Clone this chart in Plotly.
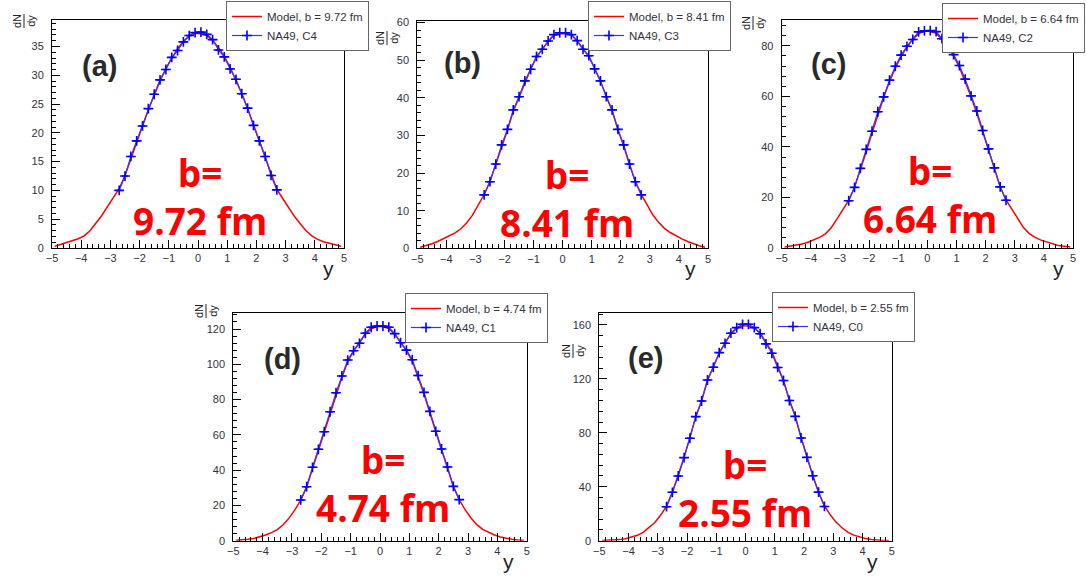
import plotly.graph_objects as go

W, H = 1086, 576

# ---------------- data ----------------
model_x = [-4.9, -4.7, -4.5, -4.3, -4.1, -3.9, -3.7, -3.5, -3.3, -3.1,
           -2.9, -2.7, -2.5, -2.3, -2.1, -1.9, -1.7, -1.5, -1.3, -1.1,
           -0.9, -0.7, -0.5, -0.3, -0.1, 0.1, 0.3, 0.5, 0.7, 0.9,
           1.1, 1.3, 1.5, 1.7, 1.9, 2.1, 2.3, 2.5, 2.7, 2.9,
           3.1, 3.3, 3.5, 3.7, 3.9, 4.1, 4.3, 4.5, 4.7, 4.9]
data_x = [-2.7, -2.5, -2.3, -2.1, -1.9, -1.7, -1.5, -1.3, -1.1, -0.9,
          -0.7, -0.5, -0.3, -0.1, 0.1, 0.3, 0.5, 0.7, 0.9, 1.1,
          1.3, 1.5, 1.7, 1.9, 2.1, 2.3, 2.5, 2.7]

model_a = [0.3, 0.6, 0.9, 1.2, 1.6, 2.1, 3.0, 4.3, 5.6, 7.2, 8.8, 10.3, 12.6, 15.6, 18.4,
           21.2, 24.0, 26.6, 29.0, 31.2, 33.0, 34.6, 35.9, 36.8, 37.3,
           37.2, 36.9, 36.1, 34.8, 33.3, 31.4, 29.2, 26.8, 24.2, 21.4, 18.6, 15.6, 12.8,
           10.2, 8.6, 7.0, 5.5, 4.2, 3.0, 2.1, 1.5, 1.1, 0.8, 0.5, 0.3]
model_b = [0.3, 0.7, 1.2, 1.8, 2.5, 3.2, 4.1, 5.2, 6.8, 8.8, 11.5, 14.3, 17.8, 22.2, 27.0,
           31.4, 36.4, 40.2, 44.2, 47.6, 50.8, 53.0, 55.0, 56.6, 57.0,
           57.1, 56.7, 55.1, 53.2, 51.0, 47.8, 44.4, 40.4, 36.6, 31.6, 27.2, 22.2, 17.8,
           14.4, 11.6, 8.9, 6.9, 5.3, 4.2, 3.3, 2.5, 1.8, 1.2, 0.7, 0.3]
model_c = [0.4, 0.7, 1.0, 1.6, 2.3, 3.1, 4.2, 5.6, 8.0, 11.5, 15.0, 18.8, 24.0, 30.8, 38.0,
           45.5, 53.0, 59.5, 65.8, 71.2, 75.8, 79.5, 82.5, 84.8, 85.8,
           85.7, 84.9, 82.6, 79.8, 76.0, 71.5, 66.0, 59.8, 53.2, 45.8, 38.3, 31.0, 24.2,
           19.0, 15.2, 11.6, 8.1, 5.7, 4.2, 3.1, 2.3, 1.6, 1.0, 0.7, 0.4]
model_d = [0.2, 0.4, 0.8, 1.3, 2.1, 3.2, 4.6, 6.3, 9.0, 12.8, 17.5, 23.0, 30.5, 41.0, 51.0,
           61.0, 72.0, 83.0, 92.5, 101.5, 107.5, 112.5, 117.0, 120.0, 121.5,
           121.3, 120.2, 117.2, 112.8, 107.8, 101.8, 92.8, 83.2, 72.4, 61.4, 51.2, 41.2, 30.8,
           23.2, 17.6, 12.9, 9.1, 6.4, 4.7, 3.2, 2.1, 1.3, 0.8, 0.4, 0.2]
model_e = [0.1, 0.2, 0.4, 0.8, 1.5, 2.5, 4.0, 6.2, 9.5, 13.5, 19.0, 25.5, 35.5, 48.0, 62.0,
           76.5, 92.0, 104.0, 119.0, 129.0, 139.0, 146.5, 153.5, 157.5, 159.5,
           159.3, 157.8, 154.0, 147.2, 140.2, 129.5, 118.5, 104.5, 92.5, 76.8, 62.3, 48.3, 35.8,
           25.8, 19.2, 13.6, 9.6, 6.3, 4.1, 2.6, 1.6, 0.9, 0.4, 0.2, 0.1]

na49_a = [10.0, 12.5, 15.9, 18.6, 21.2, 24.2, 26.7, 29.2, 31.0, 33.1, 34.3, 35.8, 36.9, 37.4,
          37.5, 37.1, 36.2, 34.4, 33.2, 31.1, 29.3, 26.8, 24.3, 21.3, 18.6, 15.9, 12.6, 10.1]
na49_b = [14.2, 17.7, 22.4, 27.5, 31.6, 36.8, 40.3, 44.5, 47.6, 51.0, 52.9, 55.1, 56.8, 57.3,
          57.3, 56.8, 55.2, 52.9, 51.2, 47.7, 44.5, 40.3, 36.8, 31.6, 27.5, 22.4, 17.7, 14.2]
na49_c = [18.7, 24.0, 31.5, 39.0, 46.2, 53.9, 59.8, 66.4, 71.9, 76.3, 79.8, 82.5, 85.5, 85.9,
          86.0, 85.6, 82.8, 80.2, 76.5, 72.2, 66.8, 60.2, 54.2, 46.5, 39.2, 31.7, 24.2, 18.9]
na49_d = [23.1, 30.6, 41.6, 51.8, 61.8, 73.1, 83.9, 93.4, 102.4, 107.7, 111.9, 117.6, 121.0, 121.7,
          121.7, 121.0, 117.4, 112.2, 108.0, 102.6, 93.6, 84.1, 73.3, 62.0, 52.0, 41.8, 30.8, 23.3]
na49_e = [25.2, 35.9, 48.0, 61.6, 76.0, 92.0, 103.6, 119.2, 128.6, 139.5, 146.4, 153.9, 158.0, 160.5,
          160.5, 158.0, 153.5, 146.0, 139.0, 128.5, 118.8, 104.0, 92.2, 76.2, 61.8, 48.2, 36.0, 25.4]

panel_letters = ["(a)", "(b)", "(c)", "(d)", "(e)"]
b_values = ["9.72", "8.41", "6.64", "4.74", "2.55"]
centrality = ["C4", "C3", "C2", "C1", "C0"]
y_ticks_major = [5, 10, 20, 20, 40]
y_ticks_minor = [1, 2, 4, 4, 8]
y_tops = [39.6, 60.5, 90.2, 128.9, 169.1]
models = [model_a, model_b, model_c, model_d, model_e]
na49 = [na49_a, na49_b, na49_c, na49_d, na49_e]

# ---------------- layout geometry (pixels) ----------------
frames = [  # left, right, top, bottom
    (52, 344, 20, 248),
    (417.3, 708, 20.7, 248.3),
    (781.7, 1073, 20, 248),
    (233.3, 526.7, 313.3, 540.7),
    (599.3, 891.7, 312.7, 540.7),
]
legend_pos = [(226, 1), (588, 1), (942, 3), (405, 293), (772, 292)]
letter_pos = [(99, 66), (462, 63), (828, 64), (282, 359), (645, 358)]
bnote_pos = [(200, 196), (567, 198), (930, 194), (383, 483), (745, 488)]
dndy_pos = [(24, 21), (387, 38), (753, 23), (206, 311), (573, 351)]
ytitle_pos = [(328, 268), (690, 268), (1058, 268), (508, 561), (872, 561)]


def px(x):
    return x / W


def py(y):
    return 1 - y / H


fig = go.Figure()
layout = dict(width=W, height=H, margin=dict(l=0, r=0, t=0, b=0, autoexpand=False),
              paper_bgcolor="white", plot_bgcolor="white", showlegend=True)
annotations = []
shapes = []
tickfont = dict(family="Liberation Sans, Arial, sans-serif", size=11, color="#333340")

for i in range(5):
    k = "" if i == 0 else str(i + 1)
    L, R, T, B = frames[i]
    fig.add_trace(go.Scatter(
        x=model_x, y=models[i], mode="lines",
        line=dict(color="#ff0000", width=1.5, shape="linear"),
        name=f"Model, b = {b_values[i]} fm",
        xaxis="x" + k, yaxis="y" + k, legend="legend" + k))
    fig.add_trace(go.Scatter(
        x=data_x, y=na49[i], mode="lines+markers",
        line=dict(color="#3535ff", width=1.2),
        marker=dict(symbol="cross-thin", size=7, color="#0000ff",
                    line=dict(width=1.6, color="#0000ff")),
        error_x=dict(type="constant", value=0.1, width=0, thickness=1.4, color="#0000ff"),
        name=f"NA49, {centrality[i]}",
        xaxis="x" + k, yaxis="y" + k, legend="legend" + k))

    layout["xaxis" + k] = dict(
        domain=[px(L), px(R)], anchor="y" + k, range=[-5, 5], automargin=False,
        showline=True, linecolor="black", linewidth=1, mirror=True,
        showgrid=False, zeroline=False,
        ticks="inside", ticklen=8, tickcolor="black", dtick=1, tick0=0,
        minor=dict(ticks="inside", ticklen=4, dtick=0.2, tickcolor="black", showgrid=False),
        tickfont=tickfont)
    layout["yaxis" + k] = dict(
        domain=[py(B), py(T)], anchor="x" + k, range=[0, y_tops[i]], automargin=False,
        showline=True, linecolor="black", linewidth=1, mirror=True,
        showgrid=False, zeroline=False,
        ticks="inside", ticklen=8, tickcolor="black", dtick=y_ticks_major[i], tick0=0,
        minor=dict(ticks="inside", ticklen=4, dtick=y_ticks_minor[i], tickcolor="black", showgrid=False),
        tickfont=tickfont, ticklabelstandoff=5)
    lx, ly = legend_pos[i]
    layout["legend" + k] = dict(
        x=px(lx), y=py(ly), xanchor="left", yanchor="top",
        bgcolor="white", bordercolor="#666666", borderwidth=1,
        font=dict(family="Liberation Sans, Arial, sans-serif", size=11.5, color="#333340"),
        tracegroupgap=0, itemwidth=30)

    ax, ay = letter_pos[i]
    annotations.append(dict(x=px(ax), y=py(ay), xref="paper", yref="paper", showarrow=False,
                            text=f"<b>{panel_letters[i]}</b>", xanchor="center", yanchor="middle",
                            font=dict(family="Liberation Sans, Arial, sans-serif", size=29, color="#2a2a2a")))
    bx, by = bnote_pos[i]
    annotations.append(dict(x=px(bx), y=py(by), xref="paper", yref="paper", showarrow=False,
                            text=f"<b>b=<br>{b_values[i]} fm</b>", xanchor="center", yanchor="middle",
                            align="center",
                            font=dict(family="Open Sans, sans-serif", size=37, color="#ff0000")))
    dx, dy = dndy_pos[i]
    annotations.append(dict(x=px(dx), y=py(dy), xref="paper", yref="paper", showarrow=False,
                            text="dN<br>dy", textangle=-90, xanchor="center", yanchor="middle",
                            font=dict(family="Liberation Sans, Arial, sans-serif", size=11, color="#222222")))
    shapes.append(dict(type="line", xref="paper", yref="paper",
                       x0=px(dx), x1=px(dx), y0=py(dy - 7), y1=py(dy + 7),
                       line=dict(color="#222222", width=1)))
    tx, ty = ytitle_pos[i]
    annotations.append(dict(x=px(tx), y=py(ty), xref="paper", yref="paper", showarrow=False,
                            text="y", xanchor="center", yanchor="middle",
                            font=dict(family="Liberation Sans, Arial, sans-serif", size=21, color="#222222")))

layout["annotations"] = annotations
layout["shapes"] = shapes
fig.update_layout(**layout)
fig.write_html("out.html", config={"displayModeBar": False},
               post_script="document.body.style.margin='0';document.body.style.overflow='hidden';")
